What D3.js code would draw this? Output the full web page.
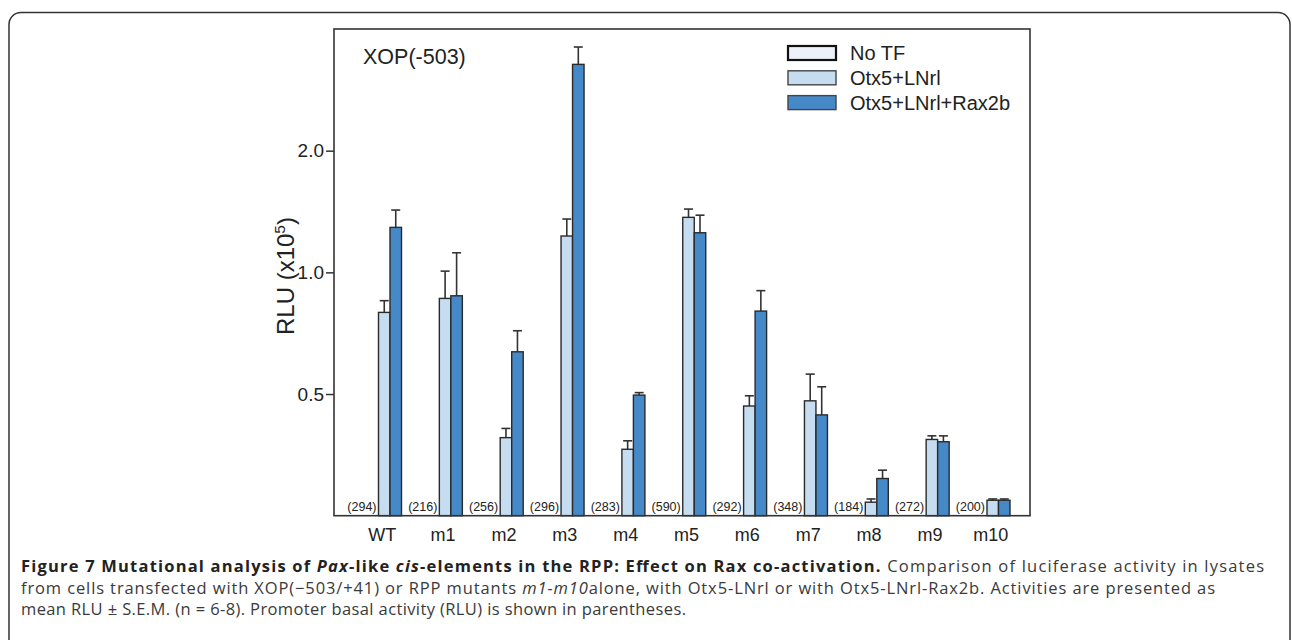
<!DOCTYPE html>
<html><head><meta charset="utf-8">
<script src="https://cdn.jsdelivr.net/npm/d3@7"></script>
<style>body{margin:0;background:#fff}</style>
</head><body>
<svg id="c" width="1292" height="640"></svg>
<script>
// ---- data (RLU x10^5) ----
const categories = ["WT","m1","m2","m3","m4","m5","m6","m7","m8","m9","m10"];
const seriesNames = ["No TF","Otx5+LNrl","Otx5+LNrl+Rax2b"];
const basalLabels = ["(294)","(216)","(256)","(296)","(283)","(590)","(292)","(348)","(184)","(272)","(200)"];
const noTF = [0.00294,0.00216,0.00256,0.00296,0.00283,0.00590,0.00292,0.00348,0.00184,0.00272,0.00200];
const otx = [0.796,0.862,0.390,1.230,0.365,1.368,0.467,0.481,0.270,0.386,0.273];
const otxSEM = [0.055,0.145,0.021,0.125,0.018,0.066,0.028,0.079,0.005,0.008,0.002];
const rax = [1.292,0.875,0.636,3.27,0.497,1.253,0.802,0.444,0.309,0.381,0.273];
const raxSEM = [0.134,0.243,0.081,0.34,0.007,0.132,0.099,0.077,0.015,0.013,0.002];
const yTicks = [0.5,1.0,2.0];
const yDomain = [0.25,4];

const svg = d3.select("#c");
const fill = {"No TF":"#edf2fa","Otx5+LNrl":"#c6dcf0","Otx5+LNrl+Rax2b":"#4689c8"};
const SANS = "Liberation Sans, Arial, sans-serif";

// outer frame
svg.append("rect").attr("x",9).attr("y",12.5).attr("width",1281).attr("height",700)
  .attr("rx",12).attr("fill","none").attr("stroke","#333").attr("stroke-width",1.5);

const P = {l:334,r:1030,t:29,b:515.7};
const y = d3.scaleLog().domain(yDomain).range([P.b,P.t]);
const x = d3.scaleBand().domain(categories).range([367,1010]).paddingInner(0.433);
const xs = d3.scaleBand().domain(seriesNames).range([0,x.bandwidth()]);

const rows = [];
categories.forEach((c,i)=>{
  rows.push({c,s:"No TF",v:noTF[i],e:0});
  rows.push({c,s:"Otx5+LNrl",v:otx[i],e:otxSEM[i]});
  rows.push({c,s:"Otx5+LNrl+Rax2b",v:rax[i],e:raxSEM[i]});
});
const vis = rows.filter(d=>d.v>yDomain[0]);
const g = svg.append("g");
// error bars
const eb = g.selectAll(".eb").data(vis).join("g");
eb.append("line")
  .attr("x1",d=>x(d.c)+xs(d.s)+xs.bandwidth()/2).attr("x2",d=>x(d.c)+xs(d.s)+xs.bandwidth()/2)
  .attr("y1",d=>y(d.v)).attr("y2",d=>y(d.v+d.e))
  .attr("stroke","#333").attr("stroke-width",1.6);
eb.append("line")
  .attr("x1",d=>x(d.c)+xs(d.s)+xs.bandwidth()/2-4.5).attr("x2",d=>x(d.c)+xs(d.s)+xs.bandwidth()/2+4.5)
  .attr("y1",d=>y(d.v+d.e)).attr("y2",d=>y(d.v+d.e))
  .attr("stroke","#333").attr("stroke-width",1.6);
// bars
g.selectAll(".bar").data(vis).join("rect")
  .attr("x",d=>x(d.c)+xs(d.s)).attr("width",xs.bandwidth())
  .attr("y",d=>y(d.v)).attr("height",d=>P.b-y(d.v))
  .attr("fill",d=>fill[d.s]).attr("stroke","#2a2a2a").attr("stroke-width",1.4);

// basal labels
svg.selectAll(".bl").data(categories).join("text")
  .attr("x",d=>x(d)+xs("No TF")+xs.bandwidth()-2).attr("y",P.b-5)
  .attr("text-anchor","end").attr("font-family",SANS)
  .attr("font-size",12.5).attr("fill","#222").text((d,i)=>basalLabels[i]);

// plot frame
svg.append("rect").attr("x",P.l).attr("y",P.t).attr("width",P.r-P.l).attr("height",P.b-P.t)
  .attr("fill","none").attr("stroke","#333").attr("stroke-width",1.6);

// y axis
const ya = svg.append("g").attr("transform",`translate(${P.l},0)`)
  .call(d3.axisLeft(y).tickValues(yTicks).tickFormat(d3.format(".1f")).tickSize(8).tickPadding(2));
ya.select(".domain").remove();
ya.selectAll("line").attr("stroke","#333").attr("stroke-width",1.5);
ya.selectAll("text").attr("font-family",SANS).attr("font-size",19).attr("fill","#222");

// x labels
const xa = svg.append("g").attr("transform",`translate(0,${P.b})`)
  .call(d3.axisBottom(x).tickSize(0).tickPadding(13));
xa.select(".domain").remove();
xa.selectAll(".tick").attr("transform",d=>`translate(${x(d)+x.bandwidth()/2-2},0)`);
xa.selectAll("text").attr("font-family",SANS).attr("font-size",18).attr("fill","#222");

// y title
const yt = svg.append("text").attr("transform",`translate(294,276) rotate(-90)`)
  .attr("text-anchor","middle").attr("font-family",SANS)
  .attr("font-size",24).attr("fill","#222");
yt.append("tspan").text("RLU (x10");
yt.append("tspan").attr("font-size",15.5).attr("dy",-9).text("5");
yt.append("tspan").attr("dy",9).text(")");

// panel title
svg.append("text").attr("x",363).attr("y",64).attr("font-family",SANS)
  .attr("font-size",21.5).attr("fill","#222").text("XOP(-503)");

// legend
const lg = svg.append("g").selectAll("g").data(seriesNames).join("g")
  .attr("transform",(d,i)=>`translate(788,${46+i*24.8})`);
lg.append("rect").attr("width",48).attr("height",14).attr("fill",d=>fill[d])
  .attr("stroke",(d,i)=>i===0?"#111":"#444").attr("stroke-width",(d,i)=>i===0?2.2:1.4);
lg.append("text").attr("x",62).attr("y",7).attr("dy","0.35em")
  .attr("font-family",SANS).attr("font-size",20).attr("fill","#222").text(d=>d);

// caption
const cap = svg.append("g").attr("font-family","Open Sans, sans-serif").attr("font-size",16.5).attr("fill","#3a3a3a");
const l1 = cap.append("text").attr("x",21).attr("y",572).attr("textLength",1243).attr("lengthAdjust","spacing");
l1.append("tspan").attr("font-weight","bold").attr("fill","#222").text("Figure 7 Mutational analysis of ");
l1.append("tspan").attr("font-weight","bold").attr("font-style","italic").attr("fill","#222").text("Pax");
l1.append("tspan").attr("font-weight","bold").attr("fill","#222").text("-like ");
l1.append("tspan").attr("font-weight","bold").attr("font-style","italic").attr("fill","#222").text("cis");
l1.append("tspan").attr("font-weight","bold").attr("fill","#222").text("-elements in the RPP: Effect on Rax co-activation.");
l1.append("tspan").text(" Comparison of luciferase activity in lysates");
const l2 = cap.append("text").attr("x",21).attr("y",594).attr("textLength",1194).attr("lengthAdjust","spacing");
l2.append("tspan").text("from cells transfected with XOP(\u2212503/+41) or RPP mutants ");
l2.append("tspan").attr("font-style","italic").text("m1-m10");
l2.append("tspan").text("alone, with Otx5-LNrl or with Otx5-LNrl-Rax2b. Activities are presented as");
cap.append("text").attr("x",21).attr("y",615).attr("textLength",665).attr("lengthAdjust","spacing")
  .text("mean RLU \u00b1 S.E.M. (n = 6-8). Promoter basal activity (RLU) is shown in parentheses.");
</script>
</body></html>
